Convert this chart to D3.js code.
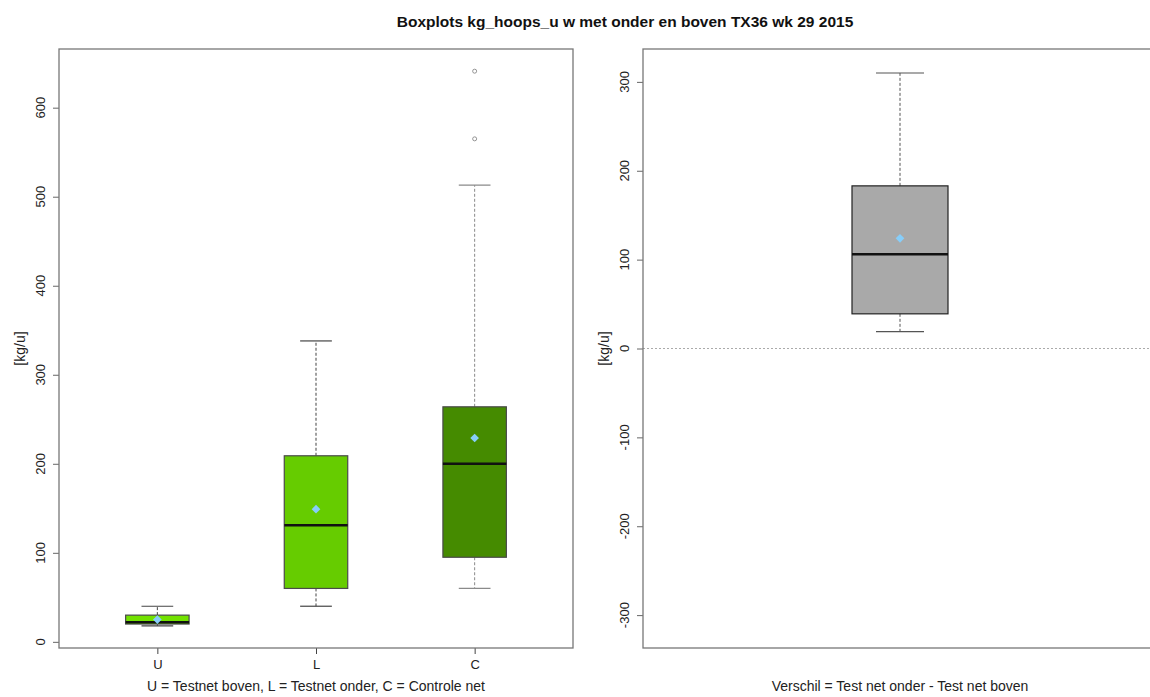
<!DOCTYPE html>
<html><head><meta charset="utf-8">
<script src="https://cdn.jsdelivr.net/npm/d3@7"></script>
<style>body{margin:0;background:#fff;} svg{display:block;font-family:"Liberation Sans",Arial,sans-serif;}</style>
</head><body>
<svg id="chart" width="1150" height="697"></svg>
<script>
// ---- data ----
const categories = ["U", "L", "C"];
const lowWhisker = [18, 40, 60];
const q1 = [20, 60, 95];
const medians = [22, 131, 200];
const q3 = [30, 209, 264];
const highWhisker = [40, 338, 513];
const means = [25, 149, 229];
const outliers = [[], [], [565, 641]];
const boxColors = ["#72E200", "#66CC00", "#458B00"];
const leftTicks = [0, 100, 200, 300, 400, 500, 600];

const diffLow = 19, diffQ1 = 39, diffMedian = 106, diffQ3 = 183, diffHigh = 310, diffMean = 124;
const rightTicks = [-300, -200, -100, 0, 100, 200, 300];

const title = "Boxplots kg_hoops_u w met onder en boven TX36 wk 29 2015";
const leftXTitle = "U = Testnet boven, L = Testnet onder, C = Controle net";
const rightXTitle = "Verschil = Test net onder - Test net boven";
const yTitle = "[kg/u]";

// ---- layout ----
const svg = d3.select("#chart");
const topY = 49, bottomY = 648;
const PL = {x0: 59, x1: 573};
const PR = {x0: 643, x1: 1157};
const font = "'Liberation Sans', Arial, sans-serif";

svg.append("text").attr("x", 625).attr("y", 27).attr("text-anchor", "middle")
  .attr("font-weight", "bold").attr("font-size", 15.5).attr("fill", "#111").text(title);

// left scales
const allVals = lowWhisker.concat(highWhisker, outliers.flat());
const lmin = d3.min(allVals), lmax = d3.max(allVals);
const lext = (lmax - lmin) * 0.04;
const yL = d3.scaleLinear().domain([lmin - lext, lmax + lext]).range([bottomY, topY]);
const xL = d3.scaleLinear().domain([0.38, 3.62]).range([PL.x0, PL.x1]);

const yR = d3.scaleLinear().domain([-337, 337]).range([bottomY, topY]);
const xR = d3.scaleLinear().domain([0.46, 1.54]).range([PR.x0, PR.x1]);

function yAxisDraw(yScale, ticks, x0) {
  const g = svg.append("g").attr("transform", `translate(${x0},0)`);
  const ax = d3.axisLeft(yScale).tickValues(ticks).tickSize(6).tickFormat(d3.format("d"));
  g.call(ax);
  g.select(".domain").remove();
  g.selectAll(".tick line").attr("stroke", "#666");
  g.selectAll(".tick text").remove();
  ticks.forEach(t => {
    svg.append("text").attr("transform", `translate(${x0 - 14},${yScale(t)}) rotate(-90)`)
      .attr("text-anchor", "middle").attr("font-size", 13).attr("fill", "#222").text(t);
  });
  svg.append("text").attr("transform", `translate(${x0 - 34},${(topY + bottomY) / 2}) rotate(-90)`)
    .attr("text-anchor", "middle").attr("font-size", 14).attr("fill", "#222").text(yTitle);
}

function drawBox(xc, halfW, capW, lo, b1, med, b3, hi, mean, outs, yScale, fill, stroke, wcol) {
  const g = svg.append("g");
  g.append("line").attr("x1", xc).attr("x2", xc).attr("y1", yScale(b3)).attr("y2", yScale(hi))
    .attr("stroke", wcol).attr("stroke-dasharray", "3,2").attr("stroke-width", 1);
  g.append("line").attr("x1", xc).attr("x2", xc).attr("y1", yScale(b1)).attr("y2", yScale(lo))
    .attr("stroke", wcol).attr("stroke-dasharray", "3,2").attr("stroke-width", 1);
  [lo, hi].forEach(v => g.append("line").attr("x1", xc - capW).attr("x2", xc + capW)
    .attr("y1", yScale(v)).attr("y2", yScale(v)).attr("stroke", wcol).attr("stroke-width", 1.2));
  g.append("rect").attr("x", xc - halfW).attr("width", 2 * halfW)
    .attr("y", yScale(b3)).attr("height", yScale(b1) - yScale(b3))
    .attr("fill", fill).attr("stroke", stroke).attr("stroke-width", 1.2);
  g.append("line").attr("x1", xc - halfW).attr("x2", xc + halfW)
    .attr("y1", yScale(med)).attr("y2", yScale(med)).attr("stroke", "#111").attr("stroke-width", 2.6);
  g.append("path").attr("d", d3.symbol(d3.symbolDiamond2, 48)())
    .attr("transform", `translate(${xc},${yScale(mean)})`).attr("fill", "#87CEFA");
  outs.forEach(v => g.append("circle").attr("cx", xc).attr("cy", yScale(v)).attr("r", 2)
    .attr("fill", "none").attr("stroke", "#888").attr("stroke-width", 0.9));
}

// ---- left panel ----
yAxisDraw(yL, leftTicks, PL.x0);
categories.forEach((c, i) => {
  const xc = xL(i + 1);
  const halfW = xL(1.2) - xL(1);
  const capW = xL(1.1) - xL(1);
  drawBox(xc, halfW, capW, lowWhisker[i], q1[i], medians[i], q3[i], highWhisker[i], means[i], outliers[i],
    yL, boxColors[i], "#4a4a4a", i === 2 ? "#8a8a8a" : "#444");
});
const gx = svg.append("g").attr("transform", `translate(0,${bottomY})`);
gx.call(d3.axisBottom(xL).tickValues([1, 2, 3]).tickSize(6).tickFormat((d, i) => categories[i]));
gx.select(".domain").remove();
gx.selectAll(".tick line").attr("stroke", "#444");
gx.selectAll(".tick text").attr("font-size", 13).attr("font-family", font).attr("fill", "#222").attr("dy", "0.95em");
svg.append("text").attr("x", (PL.x0 + PL.x1) / 2).attr("y", 691).attr("text-anchor", "middle")
  .attr("font-size", 14).attr("fill", "#222").text(leftXTitle);
svg.append("rect").attr("x", PL.x0).attr("y", topY).attr("width", PL.x1 - PL.x0).attr("height", bottomY - topY)
  .attr("fill", "none").attr("stroke", "#777").attr("stroke-width", 1.3);

// ---- right panel ----
yAxisDraw(yR, rightTicks, PR.x0);
svg.append("line").attr("x1", PR.x0).attr("x2", PR.x1).attr("y1", yR(0)).attr("y2", yR(0))
  .attr("stroke", "#aaa").attr("stroke-dasharray", "2,2").attr("stroke-width", 1);
drawBox(xR(1), 48, 24, diffLow, diffQ1, diffMedian, diffQ3, diffHigh, diffMean, [], yR, "#A9A9A9", "#222", "#555");
svg.append("text").attr("x", 900).attr("y", 691).attr("text-anchor", "middle")
  .attr("font-size", 14).attr("fill", "#222").text(rightXTitle);
svg.append("rect").attr("x", PR.x0).attr("y", topY).attr("width", PR.x1 - PR.x0).attr("height", bottomY - topY)
  .attr("fill", "none").attr("stroke", "#777").attr("stroke-width", 1.3);
</script>
</body></html>
